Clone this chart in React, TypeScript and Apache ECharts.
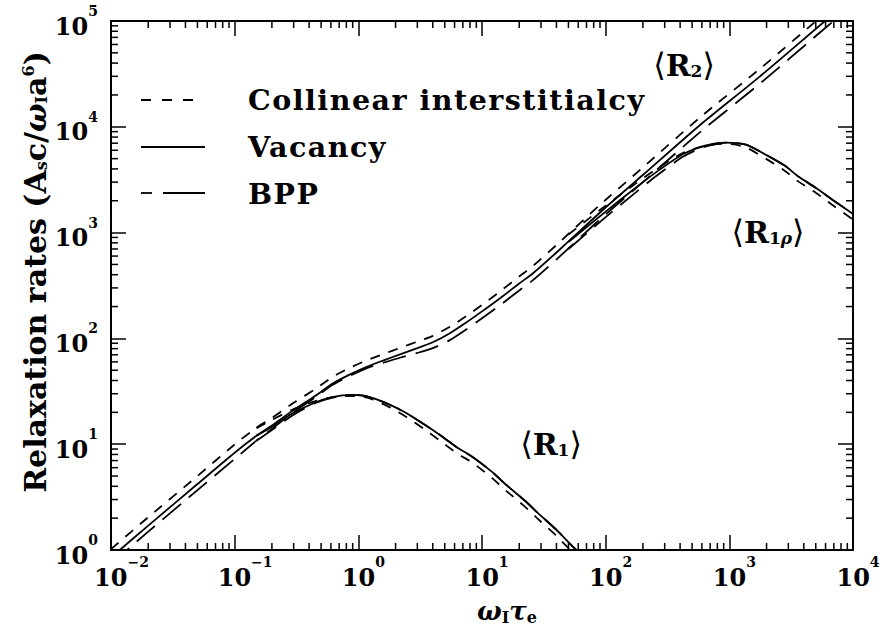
import React, { useEffect, useRef } from "react";
import * as echarts from "echarts";

// ---- axes ----
const X_MIN = 0.01;
const X_MAX = 10000;
const Y_MIN = 1;
const Y_MAX = 100000;
const xDecades = [0.01, 0.1, 1, 10, 100, 1000];
const yDecades = [1, 10, 100, 1000, 10000];
const minorMultipliers = [2, 3, 4, 5, 6, 7, 8, 9];

// ---- <R2> branch (coincides with <R1rho> at low x) ----
const r2X = [0.01, 0.02, 0.05, 0.1, 0.15, 0.2, 0.3, 0.45, 0.62, 0.85, 1.17, 1.6, 2.2, 3, 4, 5.5, 7.5, 10, 14, 20, 26, 43, 90, 200, 580, 1770, 6000, 9000];
const r2Collinear = [1.02, 2.04, 5.0, 9.95, 14.3, 17.7, 24.6, 33.3, 43.3, 52.5, 62.1, 71.3, 81.7, 93.2, 105.8, 128.8, 163, 207, 278, 385, 487, 825, 1830, 4130, 12270, 35400, 119000, 177000];
const r2Vacancy = [0.85, 1.7, 4.2, 8.3, 12.0, 15.0, 21.0, 28.7, 37.5, 45.5, 54, 62, 71, 81, 92, 112, 142, 180, 240, 330, 415, 700, 1550, 3500, 10400, 30000, 101000, 150000];
const r2BPP = [0.74, 1.49, 3.68, 7.26, 10.8, 13.95, 20.2, 27.8, 36.4, 44.1, 52.4, 58.9, 66.0, 72.9, 81.0, 96.3, 122, 155, 206, 284, 357, 602, 1333, 3000, 8900, 25650, 86400, 128000];

// ---- <R1> branch ----
const r1X = [0.15, 0.2, 0.3, 0.45, 0.62, 0.86, 1.1, 1.32, 1.8, 2.46, 3.4, 4.57, 6.3, 8.5, 12, 15.8, 22, 29.4, 40, 55, 70];
const r1Collinear = [14.2, 17.0, 21.5, 25.5, 27.8, 28.5, 28.0, 26.3, 22.3, 18.0, 13.9, 10.8, 8.2, 6.6, 4.8, 3.6, 2.6, 1.89, 1.36, 0.93, 0.72];
const r1Vacancy = [12.0, 14.6, 19.8, 24.8, 27.8, 29.2, 28.8, 27.2, 23.6, 19.6, 15.4, 12.2, 9.3, 7.5, 5.5, 4.1, 2.95, 2.15, 1.55, 1.06, 0.82];
const r1BPP = [10.8, 13.6, 19.0, 24.5, 27.6, 29.2, 28.8, 27.2, 23.6, 19.6, 15.4, 12.2, 9.3, 7.5, 5.5, 4.1, 2.95, 2.15, 1.55, 1.06, 0.82];

// ---- <R1rho> branch ----
const r1rX = [50, 100, 160, 250, 420, 600, 800, 950, 1150, 1400, 2000, 2800, 3600, 5000, 7000, 10000];
const r1rCollinear = [960, 1800, 2700, 3900, 5650, 6500, 6850, 6900, 6750, 6300, 4950, 3850, 3050, 2380, 1780, 1330];
const r1rVacancy = [815, 1580, 2450, 3650, 5500, 6500, 7000, 7100, 7000, 6700, 5400, 4300, 3400, 2650, 2000, 1500];
const r1rBPP = [700, 1400, 2200, 3350, 5200, 6350, 6950, 7100, 7000, 6700, 5400, 4300, 3400, 2650, 2000, 1500];

// ---- legend ----
const legendNames = ["Collinear interstitialcy", "Vacancy", "BPP"];

const FONT = "'DejaVu Serif', serif";
const SHORT_DASH = [10, 9];
const LONG_DASH = [24, 10];
const LINE_W = 1.8;
const LEGEND_SIZE = 28.5;

const pairs = (xs: number[], ys: number[]) => xs.map((x, i) => [x, ys[i]]);

const expText = (v: number) => {
  const e = Math.round(Math.log10(v));
  return e < 0 ? "\u2212" + String(-e) : String(e);
};

function curve(name: string, xs: number[], ys: number[], dash: number[] | "solid") {
  return {
    name,
    type: "line",
    xAxisIndex: 0,
    yAxisIndex: 0,
    data: pairs(xs, ys),
    symbol: "none",
    showSymbol: false,
    smooth: 0.25,
    clip: true,
    silent: true,
    z: 3,
    lineStyle: { color: "#000", width: LINE_W, type: dash },
  };
}

function buildOption() {
  const xMinor: number[][] = [];
  xDecades.forEach((d) => minorMultipliers.forEach((m) => xMinor.push([d * m, Y_MIN])));
  const yMinor: number[][] = [];
  yDecades.forEach((d) => minorMultipliers.forEach((m) => yMinor.push([X_MIN, d * m])));

  const tickStyle = { stroke: "#000", lineWidth: 1.5 };
  const MINOR = 7;

  const axisCommon = {
    type: "log",
    logBase: 10,
    axisLine: { show: true, onZero: false, lineStyle: { color: "#000", width: 2 } },
    axisTick: { show: true, inside: true, length: 15, lineStyle: { color: "#000", width: 1.5 } },
    splitLine: { show: false },
    minorTick: { show: false },
  };

  const labelRich = {
    b: { fontFamily: FONT, fontWeight: "bold", fontSize: 24, color: "#000", padding: [10, 0, 0, 0], verticalAlign: "bottom" },
    s: { fontFamily: FONT, fontWeight: "bold", fontSize: 14, color: "#000", verticalAlign: "top" },
    p1: { width: 10 },
    p2: { width: 21 },
  };

  const textBase = { fontFamily: FONT, fontWeight: "bold", fill: "#000" };
  const annRich = {
    br: { fontFamily: FONT, fontWeight: "normal", fontSize: 32 },
    r: { fontFamily: FONT, fontWeight: "bold", fontSize: 30 },
    sub: { fontFamily: FONT, fontWeight: "bold", fontSize: 17, padding: [12, 0, 0, 0] },
    rho: { fontFamily: FONT, fontWeight: "bold", fontStyle: "italic", fontSize: 17, padding: [12, 0, 0, 0] },
  };

  return {
    animation: false,
    backgroundColor: "#fff",
    grid: { left: 111, top: 21, width: 742, height: 529, containLabel: false },
    xAxis: [
      {
        ...axisCommon,
        position: "bottom",
        min: X_MIN,
        max: X_MAX,
        axisLabel: {
          show: true,
          margin: 5,
          formatter: (v: number) => {
            const s = expText(v);
            return `{p${s.length}|}{b|10}{s|${s}}`;
          },
          rich: labelRich,
        },
      },
      {
        ...axisCommon,
        position: "top",
        min: X_MIN,
        max: X_MAX,
        axisLabel: { show: false },
      },
    ],
    yAxis: [
      {
        ...axisCommon,
        position: "left",
        min: Y_MIN,
        max: Y_MAX,
        axisLabel: {
          show: true,
          margin: 13,
          formatter: (v: number) => `{b|10}{s|${expText(v)}}`,
          rich: labelRich,
        },
      },
      {
        ...axisCommon,
        position: "right",
        min: Y_MIN,
        max: Y_MAX,
        axisLabel: { show: false },
      },
    ],
    series: [
      {
        type: "custom",
        xAxisIndex: 0,
        yAxisIndex: 0,
        silent: true,
        clip: false,
        z: 4,
        encode: { x: 0, y: 1 },
        data: xMinor,
        renderItem: (_p: any, api: any) => {
          const x = api.value(0);
          const b = api.coord([x, Y_MIN]);
          const t = api.coord([x, Y_MAX]);
          return {
            type: "group",
            children: [
              { type: "line", shape: { x1: b[0], y1: b[1], x2: b[0], y2: b[1] - MINOR }, style: tickStyle },
              { type: "line", shape: { x1: t[0], y1: t[1], x2: t[0], y2: t[1] + MINOR }, style: tickStyle },
            ],
          };
        },
      },
      {
        type: "custom",
        xAxisIndex: 0,
        yAxisIndex: 0,
        silent: true,
        clip: false,
        z: 4,
        encode: { x: 0, y: 1 },
        data: yMinor,
        renderItem: (_p: any, api: any) => {
          const y = api.value(1);
          const l = api.coord([X_MIN, y]);
          const r = api.coord([X_MAX, y]);
          return {
            type: "group",
            children: [
              { type: "line", shape: { x1: l[0], y1: l[1], x2: l[0] + MINOR, y2: l[1] }, style: tickStyle },
              { type: "line", shape: { x1: r[0], y1: r[1], x2: r[0] - MINOR, y2: r[1] }, style: tickStyle },
            ],
          };
        },
      },
      curve("Collinear R2", r2X, r2Collinear, SHORT_DASH),
      curve("Vacancy R2", r2X, r2Vacancy, "solid"),
      curve("BPP R2", r2X, r2BPP, LONG_DASH),
      curve("Collinear R1", r1X, r1Collinear, SHORT_DASH),
      curve("Vacancy R1", r1X, r1Vacancy, "solid"),
      curve("BPP R1", r1X, r1BPP, LONG_DASH),
      curve("Collinear R1rho", r1rX, r1rCollinear, SHORT_DASH),
      curve("Vacancy R1rho", r1rX, r1rVacancy, "solid"),
      curve("BPP R1rho", r1rX, r1rBPP, LONG_DASH),
    ],
    graphic: [
      // legend samples
      { type: "line", shape: { x1: 141, y1: 100, x2: 196, y2: 100 }, style: { stroke: "#000", lineWidth: LINE_W, lineDash: [10, 11] } },
      { type: "line", shape: { x1: 141, y1: 147, x2: 205, y2: 147 }, style: { stroke: "#000", lineWidth: LINE_W } },
      { type: "line", shape: { x1: 141, y1: 193, x2: 152, y2: 193 }, style: { stroke: "#000", lineWidth: LINE_W } },
      { type: "line", shape: { x1: 163, y1: 193, x2: 205, y2: 193 }, style: { stroke: "#000", lineWidth: LINE_W } },
      { type: "text", x: 248, y: 100, style: { ...textBase, text: legendNames[0], fontSize: LEGEND_SIZE, align: "left", verticalAlign: "middle" } },
      { type: "text", x: 248, y: 147, style: { ...textBase, text: legendNames[1], fontSize: LEGEND_SIZE, align: "left", verticalAlign: "middle" } },
      { type: "text", x: 248, y: 194, style: { ...textBase, text: legendNames[2], fontSize: LEGEND_SIZE, align: "left", verticalAlign: "middle" } },
      // curve annotations
      {
        type: "text",
        x: 684,
        y: 65,
        style: { ...textBase, text: "{br|\u27E8}{r|R}{sub|2}{br|\u27E9}", fontSize: 30, align: "center", verticalAlign: "middle", rich: annRich },
      },
      {
        type: "text",
        x: 768,
        y: 232,
        style: { ...textBase, text: "{br|\u27E8}{r|R}{sub|1}{rho|\u03C1}{br|\u27E9}", fontSize: 30, align: "center", verticalAlign: "middle", rich: annRich },
      },
      {
        type: "text",
        x: 551,
        y: 444,
        style: { ...textBase, text: "{br|\u27E8}{r|R}{sub|1}{br|\u27E9}", fontSize: 30, align: "center", verticalAlign: "middle", rich: annRich },
      },
      // axis names
      {
        type: "text",
        x: 507,
        y: 611,
        style: {
          ...textBase,
          text: "{it|\u03C9}{sub|I}{it|\u03C4}{sub|e}",
          fontSize: 24,
          align: "center",
          verticalAlign: "middle",
          rich: {
            it: { fontFamily: FONT, fontStyle: "italic", fontWeight: "bold", fontSize: 26 },
            sub: { fontFamily: FONT, fontWeight: "bold", fontSize: 16, padding: [12, 0, 0, 0] },
          },
        },
      },
      {
        type: "text",
        x: 35,
        y: 272,
        rotation: Math.PI / 2,
        style: {
          ...textBase,
          text: "Relaxation rates (A{sub|s}c/{it|\u03C9}{sub|I}a{sup|6})",
          fontSize: 30,
          align: "center",
          verticalAlign: "middle",
          rich: {
            it: { fontFamily: FONT, fontStyle: "italic", fontWeight: "bold", fontSize: 30 },
            sub: { fontFamily: FONT, fontWeight: "bold", fontSize: 16, padding: [12, 0, 0, 0] },
            sup: { fontFamily: FONT, fontWeight: "bold", fontSize: 16, padding: [0, 0, 14, 0] },
          },
        },
      },
    ],
  };
}

export default function App() {
  const ref = useRef<HTMLDivElement>(null);
  useEffect(() => {
    if (!ref.current) return;
    const chart = echarts.init(ref.current, null, { renderer: "svg" });
    chart.setOption(buildOption() as any);
    return () => chart.dispose();
  }, []);
  return (
    <>
      <style>{`#relax-chart text[style*="${LEGEND_SIZE}px"]{letter-spacing:1.5px}`}</style>
      <div
        id="relax-chart"
        ref={ref}
        style={{ position: "fixed", left: 0, top: 0, width: 885, height: 631, background: "#fff" }}
      />
    </>
  );
}
